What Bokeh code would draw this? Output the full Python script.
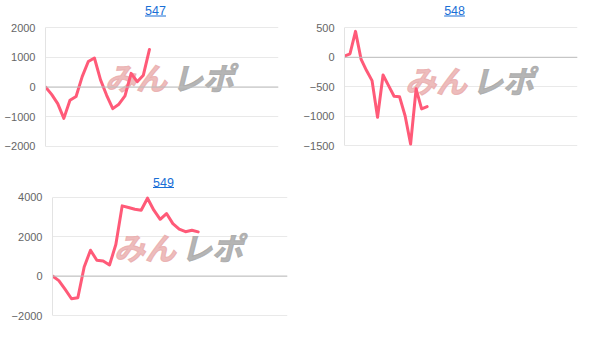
from bokeh.plotting import figure
from bokeh.layouts import column, row
from bokeh.models import Range1d, FixedTicker, Span
from bokeh.core.properties import value
from bokeh.embed import file_html
from bokeh.resources import INLINE

# Coin difference (差枚) per machine, one value per sample
machines = ["547", "548", "549"]
diff_547 = [0, -250, -560, -1060, -450, -320, 350, 860, 980, 240, -280, -730,
            -580, -300, 460, 180, 400, 1270]
diff_548 = [20, 60, 440, -30, -225, -395, -1015, -300, -480, -660, -670, -990,
            -1470, -535, -875, -835]
diff_549 = [0, -230, -680, -1150, -1100, 460, 1310, 800, 760, 560, 1600, 3560,
            3480, 3390, 3340, 3950, 3340, 2880, 3170, 2660, 2380, 2250, 2320, 2240]
ticks_547 = [-2000, -1000, 0, 1000, 2000]
ticks_548 = [-1500, -1000, -500, 0, 500]
ticks_549 = [-2000, 0, 2000, 4000]

LINE = "#ff5a78"
GRID = "#e9e9e9"
ZERO = "#bdbdbd"
LINK = "#1a6fd6"
TICK_FONT = "Liberation Sans"
WM_FONT = "Noto Sans CJK JP"


def make_chart(title, ys, ticks, fig_w, fig_h, left, right, frame_bottom,
               top_px, bot_px, x_end, title_px, wm_px):
    """Build one small line chart. The frame starts at the figure top so the
    title and watermark can be placed in data space."""
    frame_w = right - left
    vbot, vtop = ticks[0], ticks[-1]
    k = (bot_px - top_px) / (vtop - vbot)          # pixels per unit
    y_end = vtop + top_px / k
    y_start = vbot - (frame_bottom - bot_px) / k

    def dx(px):
        return (px - left) / frame_w * x_end

    def dy(py):
        return y_end - py / k

    p = figure(width=fig_w, height=fig_h,
               x_range=Range1d(0, x_end), y_range=Range1d(y_start, y_end),
               x_axis_location=None,
               min_border_left=left, min_border_right=fig_w - right,
               min_border_top=0, min_border_bottom=fig_h - frame_bottom,
               output_backend="svg", toolbar_location=None,
               outline_line_color=None, background_fill_color="white",
               border_fill_color="white")

    p.xgrid.visible = False
    p.ygrid.ticker = FixedTicker(ticks=ticks)
    p.ygrid.grid_line_color = GRID
    p.ygrid.grid_line_width = 1

    ax = p.yaxis[0]
    ax.ticker = FixedTicker(ticks=ticks)
    ax.bounds = (vbot, vtop)
    ax.axis_line_color = "#e3e3e3"
    ax.major_tick_line_color = None
    ax.minor_tick_line_color = None
    ax.major_tick_out = 0
    ax.major_label_standoff = 10
    ax.major_label_text_font = TICK_FONT
    ax.major_label_text_font_size = "11px"
    ax.major_label_text_color = "#666666"

    p.add_layout(Span(location=0, dimension="width", line_color=ZERO,
                      line_width=1))

    # watermark logo text
    gx, gy = wm_px
    p.text(x=[dx(gx - 2)], y=[dy(gy)], text=["みん"], text_align="right",
           text_baseline="middle", text_font=value(WM_FONT),
           text_font_size="31px", text_font_style="bold italic",
           text_color="#e9aaaa", text_alpha=0.8,
           text_outline_color="#e9aaaa")
    p.text(x=[dx(gx + 3)], y=[dy(gy)], text=["レポ"], text_align="left",
           text_baseline="middle", text_font=value(WM_FONT),
           text_font_size="31px", text_font_style="bold italic",
           text_color="#a8a8a8", text_alpha=0.85,
           text_outline_color="#a8a8a8")

    xs = list(range(len(ys)))
    p.line(xs, ys, line_color=LINE, line_width=3, line_join="round",
           line_cap="round")

    # linked title with underline
    tx, tb = title_px
    p.text(x=[dx(tx)], y=[dy(tb - 3.5)], text=[title], text_align="center",
           text_baseline="middle", text_font=value(TICK_FONT),
           text_font_size="12.5px", text_color=LINK)
    half = 10.5
    p.segment(x0=[dx(tx - half)], y0=[dy(tb + 2)], x1=[dx(tx + half)],
              y1=[dy(tb + 2)], line_color=LINK, line_width=1)
    return p


p1 = make_chart(machines[0], diff_547, ticks_547, 300, 165, 45, 278, 152,
                27.3, 145.7, 38.1, (155, 13.5), (168.5, 75.5))
p2 = make_chart(machines[1], diff_548, ticks_548, 307, 165, 42, 277, 152,
                27.3, 145.3, 42.3, (153, 13.5), (167.5, 78.5))
p3 = make_chart(machines[2], diff_549, ticks_549, 300, 183, 52, 287, 160,
                31.7, 150.0, 37.1, (163, 20), (177.5, 80.5))

layout = column(row(p1, p2), p3)
open("out.html", "w").write(file_html(layout, INLINE))
